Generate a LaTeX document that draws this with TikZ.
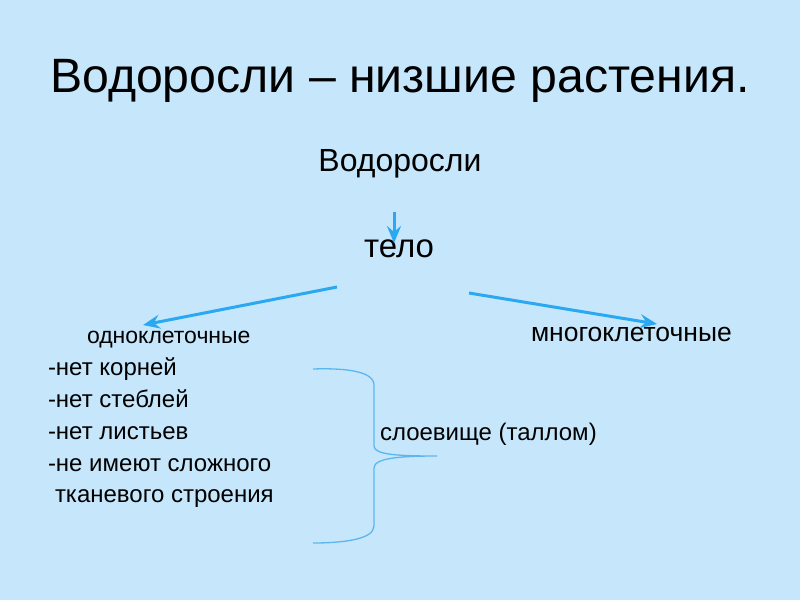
\documentclass[tikz,border=0pt]{standalone}
\usepackage{fontspec}
\setmainfont{Liberation Sans}
\usetikzlibrary{arrows.meta}
\definecolor{bg}{HTML}{C6E7FB}
\definecolor{arr}{HTML}{2AA8F2}
\definecolor{brc}{HTML}{5CB6EE}
\tikzset{
  txt/.style={inner sep=0pt, outer sep=0pt, text=black},
  arrline/.style={draw=arr, line width=3pt, -{Stealth[length=17pt,width=14pt,inset=6pt]}},
  brace/.style={draw=brc, line width=1.3pt},
}
\begin{document}
\begin{tikzpicture}[x=1pt,y=-1pt]
\fill[bg] (0,0) rectangle (800,600);
\useasboundingbox (0,0) rectangle (800,600);
\node[txt, anchor=base, font=\fontsize{48.2}{50}\selectfont] (title) at (400,92) {Водоросли – низшие растения.};
\node[txt, anchor=base, font=\fontsize{32}{34}\selectfont] (algae) at (400,171) {Водоросли};
\node[txt, anchor=base, font=\fontsize{33}{35}\selectfont] (body) at (399,257) {тело};
\node[txt, anchor=base west, font=\fontsize{23}{25}\selectfont] (uni) at (87,343) {одноклеточные};
\node[txt, anchor=base west, font=\fontsize{26.5}{28}\selectfont] (multi) at (531,341) {многоклеточные};
\begin{scope}[every node/.style={txt, anchor=base west, font=\fontsize{24}{26}\selectfont}]
\node (l1) at (48,375) {-нет корней};
\node (l2) at (48,407) {-нет стеблей};
\node (l3) at (48,439) {-нет листьев};
\node (l4) at (48,471) {-не имеют сложного};
\node (l5) at (55,502) {тканевого строения};
\node (thal) at (380,440) {слоевище (таллом)};
\end{scope}
\coordinate (a0) at (394,212);
\coordinate (a1) at (394,243);
\coordinate (b0) at (337,287);
\coordinate (b1) at (143,325);
\coordinate (c0) at (469,293);
\coordinate (c1) at (657,324);
\draw[arrline] (a0) -- (a1);
\draw[arrline] (b0) -- (b1);
\draw[arrline] (c0) -- (c1);
\coordinate (brtop) at (313,369);
\coordinate (brtip) at (437,456);
\coordinate (brbot) at (313,543);
\draw[brace] (brtop) .. controls (340,368) and (374,370) .. (374,385)
  -- (374,446) .. controls (374,455) and (400,456) .. (brtip)
  .. controls (400,456) and (374,458) .. (374,468)
  -- (374,526) .. controls (374,540) and (340,543) .. (brbot);
\end{tikzpicture}
\end{document}
